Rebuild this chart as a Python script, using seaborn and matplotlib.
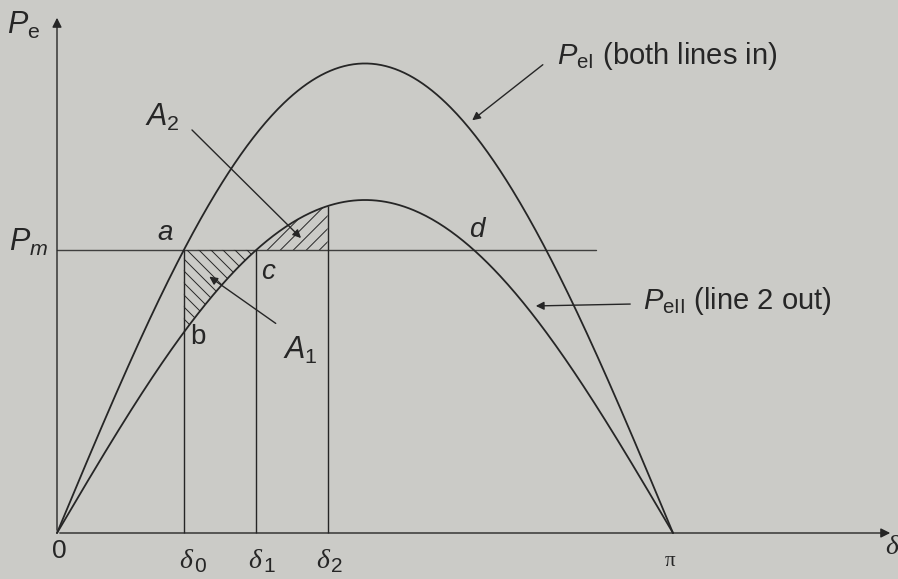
import numpy as np
import pandas as pd
import matplotlib
matplotlib.use("Agg")
import matplotlib.pyplot as plt
from matplotlib.patches import Polygon
import seaborn as sns

# Power-angle curves: peak powers (per unit of the line-2-out maximum)
curve_labels = ["P_eI", "P_eII"]
curve_peaks = [1.41, 1.00]
p_mech = 0.85          # mechanical input P_m
delta_clear = 1.38     # clearing angle δ2 (rad)
pm_line_end = 2.75     # how far the P_m line is drawn (rad)
angle_labels = ["0", "0", "1", "2"]

INK = "#262626"
PAPER = "#cbcbc7"

sns.set_theme(style="white")
plt.rcParams["font.family"] = ["Liberation Sans", "DejaVu Sans"]
plt.rcParams["mathtext.fontset"] = "custom"
plt.rcParams["mathtext.rm"] = "Liberation Sans"
plt.rcParams["mathtext.it"] = "Liberation Sans:italic"

W, H = 898, 579
fig = plt.figure(figsize=(W / 100, H / 100), dpi=100, facecolor=PAPER)
ax = fig.add_axes([0, 0, 1, 1])
ax.set_facecolor(PAPER)

# layout of the plotting frame (pixels)
x0_px, x_pi_px, y0_px, unit_px = 57, 673, 533, 333
sx = (x_pi_px - x0_px) / np.pi
sy = unit_px
ax.set_xlim(-x0_px / sx, (W - x0_px) / sx)
ax.set_ylim(-(H - y0_px) / sy, y0_px / sy)


def px(x, y):
    """pixel position (from top-left) -> axes fraction"""
    return x / W, 1 - y / H


# curves P = Pmax sin(delta)
delta = np.linspace(0, np.pi, 400)
frames = []
for name, pk in zip(curve_labels, curve_peaks):
    frames.append(pd.DataFrame({"delta": delta, "P": pk * np.sin(delta), "curve": name}))
df = pd.concat(frames, ignore_index=True)
sns.lineplot(data=df, x="delta", y="P", hue="curve", palette=[INK, INK],
             estimator=None, legend=False, linewidth=1.3, ax=ax)

# key angles
d0 = np.arcsin(p_mech / curve_peaks[0])
d1 = np.arcsin(p_mech / curve_peaks[1])
d2 = delta_clear

# P_m line and the vertical construction lines
ax.plot([0, pm_line_end], [p_mech, p_mech], color=INK, lw=1.0, alpha=0.85)
ax.vlines([d0, d1], 0, p_mech, color=INK, lw=1.0)
ax.vlines(d2, 0, curve_peaks[1] * np.sin(d2), color=INK, lw=1.0)

# axes with arrows
ax.annotate("", xy=(0, (y0_px - 15) / sy), xytext=(0, 0),
            arrowprops=dict(arrowstyle="-|>", color=INK, lw=1.0, mutation_scale=14))
ax.annotate("", xy=((893 - x0_px) / sx, 0), xytext=(0, 0),
            arrowprops=dict(arrowstyle="-|>", color=INK, lw=1.0, mutation_scale=14))


# hatched areas A1 (accelerating) and A2 (decelerating)
def hatch_region(xs, ytop, ybot, slope_sign, spacing_px):
    verts = np.column_stack([np.r_[xs, xs[::-1]], np.r_[ytop, ybot[::-1]]])
    patch = Polygon(verts, closed=True, facecolor="none", edgecolor="none")
    ax.add_patch(patch)
    xmin, xmax = xs.min(), xs.max()
    ymin, ymax = min(ybot.min(), ytop.min()), max(ybot.max(), ytop.max())
    span_px = (xmax - xmin) * sx + (ymax - ymin) * sy
    xa = np.array([xmin - 0.05, xmax + 0.05])
    xp = (xa - xmin) * sx
    for off in np.arange(-span_px, span_px, spacing_px):
        # a 45-degree line in pixel space
        ya = ymin + (slope_sign * xp + off) / sy
        ln, = ax.plot(xa, ya, color=INK, lw=0.7)
        ln.set_clip_path(patch)


xa1 = np.linspace(d0, d1, 100)
hatch_region(xa1, np.full_like(xa1, p_mech), curve_peaks[1] * np.sin(xa1), -1, 12)
xa2 = np.linspace(d1, d2, 100)
hatch_region(xa2, curve_peaks[1] * np.sin(xa2), np.full_like(xa2, p_mech), 1, 13)

# text labels
tk = dict(color=INK, transform=ax.transAxes)
ax.text(*px(7, 25), r"$P_{\mathrm{e}}$", fontsize=22, va="center", ha="left", **tk)
ax.text(*px(9, 242), r"$P_{m}$", fontsize=22, va="center", ha="left", **tk)
ax.text(*px(165, 233), "a", fontsize=20, style="italic", va="center", ha="center", **tk)
ax.text(*px(198, 337), "b", fontsize=20, va="center", ha="center", **tk)
ax.text(*px(268, 272), "c", fontsize=20, style="italic", va="center", ha="center", **tk)
ax.text(*px(477, 230), "d", fontsize=20, style="italic", va="center", ha="center", **tk)
ax.text(*px(145, 117), r"$A_{\mathrm{2}}$", fontsize=22, va="center", ha="left", **tk)
ax.text(*px(283, 350), r"$A_{\mathrm{1}}$", fontsize=22, va="center", ha="left", **tk)
ax.text(*px(557, 56), r"$P_{\mathrm{eI}}$ (both lines in)", fontsize=21,
        va="center", ha="left", **tk)
ax.text(*px(643, 301), r"$P_{\mathrm{eII}}$ (line 2 out)", fontsize=21,
        va="center", ha="left", **tk)

# angle labels along the delta axis
ax.text(*px(59, 551), angle_labels[0], fontsize=19, va="center", ha="center", **tk)
for xc, sub in zip([186, 255, 323], angle_labels[1:]):
    ax.text(*px(xc, 562), "δ", fontsize=20, family="Liberation Serif", style="italic",
            va="center", ha="center", **tk)
    ax.text(*px(xc + 8, 567), sub, fontsize=15, va="center", ha="left", **tk)
ax.text(*px(670, 561), "π", fontsize=15, family="Liberation Serif",
        va="center", ha="center", **tk)
ax.text(*px(892, 548), "δ", fontsize=20, family="Liberation Serif", style="italic",
        va="center", ha="center", **tk)

# callout arrows
arr = dict(arrowstyle="-|>", color=INK, lw=1.0, mutation_scale=12)
ax.annotate("", xy=px(303, 240), xytext=px(190, 128),
            xycoords="axes fraction", textcoords="axes fraction", arrowprops=arr)
ax.annotate("", xy=px(207, 275), xytext=px(278, 325),
            xycoords="axes fraction", textcoords="axes fraction", arrowprops=arr)
ax.annotate("", xy=px(470, 122), xytext=px(545, 63),
            xycoords="axes fraction", textcoords="axes fraction", arrowprops=arr)
ax.annotate("", xy=px(533, 306), xytext=px(633, 304),
            xycoords="axes fraction", textcoords="axes fraction", arrowprops=arr)

ax.set_xticks([])
ax.set_yticks([])
ax.set_xlabel("")
ax.set_ylabel("")
for s in ax.spines.values():
    s.set_visible(False)

fig.savefig("out.png", dpi=100, facecolor=PAPER)
